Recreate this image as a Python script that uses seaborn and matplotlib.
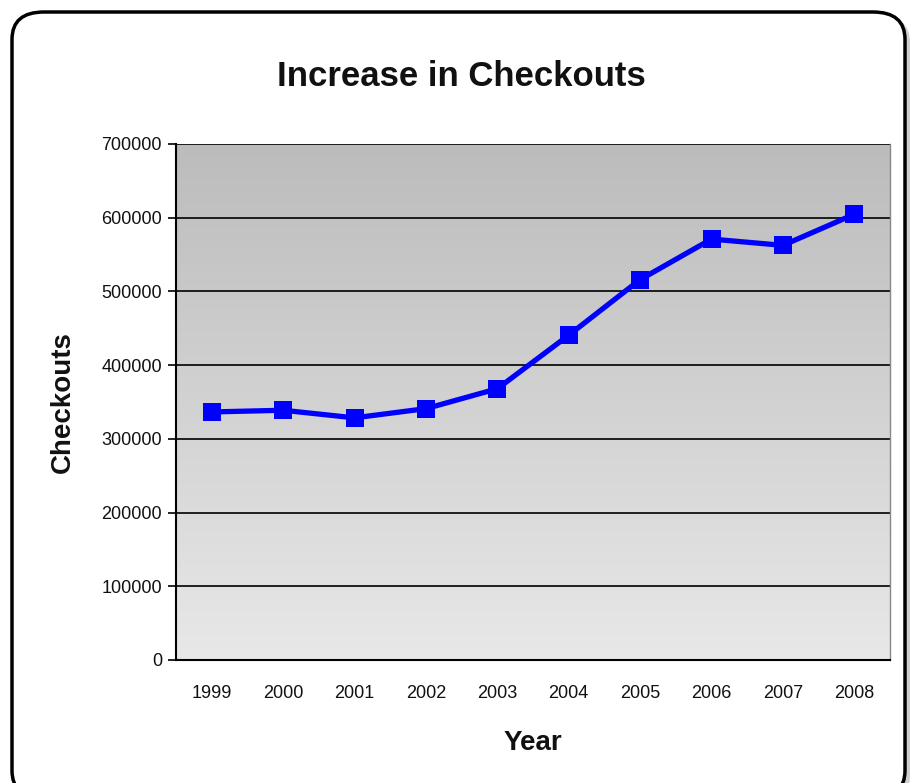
import numpy as np
import pandas as pd
import seaborn as sns
import matplotlib.pyplot as plt
from matplotlib.patches import FancyBboxPatch
from matplotlib.colors import LinearSegmentedColormap

years = [1999, 2000, 2001, 2002, 2003, 2004, 2005, 2006, 2007, 2008]
checkouts = [336500, 338800, 328500, 341000, 368000, 440600, 516000, 571000, 562500, 604700]
y_ticks = [0, 100000, 200000, 300000, 400000, 500000, 600000, 700000]

df = pd.DataFrame({"Year": years, "Checkouts": checkouts})

sns.set_style("white")
plt.rcParams['font.family'] = ['Liberation Sans', 'DejaVu Sans']

fig = plt.figure(figsize=(9.14, 7.83), dpi=100)

# shadow + rounded frame
shadow = FancyBboxPatch((17 / 914, -20 / 783), 893 / 914, 788 / 783,
                        boxstyle="round,pad=0,rounding_size=0.035",
                        transform=fig.transFigure, facecolor="#b0b0b0",
                        edgecolor="none", alpha=0.6, zorder=0)
fig.patches.append(shadow)
frame = FancyBboxPatch((12 / 914, -15 / 783), 893 / 914, 786 / 783,
                       boxstyle="round,pad=0,rounding_size=0.035",
                       transform=fig.transFigure, facecolor="white",
                       edgecolor="black", linewidth=2.5, zorder=1)
fig.patches.append(frame)

ax = fig.add_axes([176 / 914, 1 - 660 / 783, (890 - 176) / 914, (660 - 144) / 783])
ax.set_zorder(2)

# gradient background
cmap = LinearSegmentedColormap.from_list("bg", ["#e8e8e8", "#bcbcbc"])
grad = np.linspace(0, 1, 256).reshape(-1, 1)
ax.imshow(grad, extent=[1998.5, 2008.5, 0, 700000], origin="lower",
          aspect="auto", cmap=cmap, zorder=0)

for v in y_ticks[1:]:
    ax.axhline(v, color="black", linewidth=1.2, zorder=1)

sns.lineplot(data=df, x="Year", y="Checkouts", ax=ax, color="#0000ff",
             linewidth=3.8, marker="s", markersize=13, markeredgewidth=0,
             zorder=3)

ax.set_xlim(1998.5, 2008.5)
ax.set_ylim(0, 700000)
ax.set_yticks(y_ticks)
ax.set_yticklabels([str(v) for v in y_ticks], fontsize=13, color="#111111")
ax.set_xticks(years)
ax.set_xticklabels([str(y) for y in years], fontsize=13, color="#111111")
ax.set_xticks([y + 0.5 for y in [1998] + years], minor=True)
ax.tick_params(axis="x", which="major", length=0, pad=18)
ax.tick_params(axis="x", which="minor", length=6, width=1.2, color="black")
ax.tick_params(axis="y", which="major", length=6, width=1.2, color="black", pad=4, left=True)

for side in ["left", "bottom"]:
    ax.spines[side].set_color("black")
    ax.spines[side].set_linewidth(1.5)
ax.spines["right"].set_color("#888888")
ax.spines["right"].set_linewidth(1)
ax.spines["top"].set_visible(False)

ax.set_xlabel("Year", fontsize=20, fontweight="bold", labelpad=20, color="#111111")
ax.set_ylabel("Checkouts", fontsize=20, fontweight="bold", labelpad=18, color="#111111")

fig.text(461 / 914, 1 - 76 / 783, "Increase in Checkouts", fontsize=25,
         fontweight="bold", ha="center", va="center", zorder=3, color="#111111")

fig.savefig("out.png", dpi=100)
